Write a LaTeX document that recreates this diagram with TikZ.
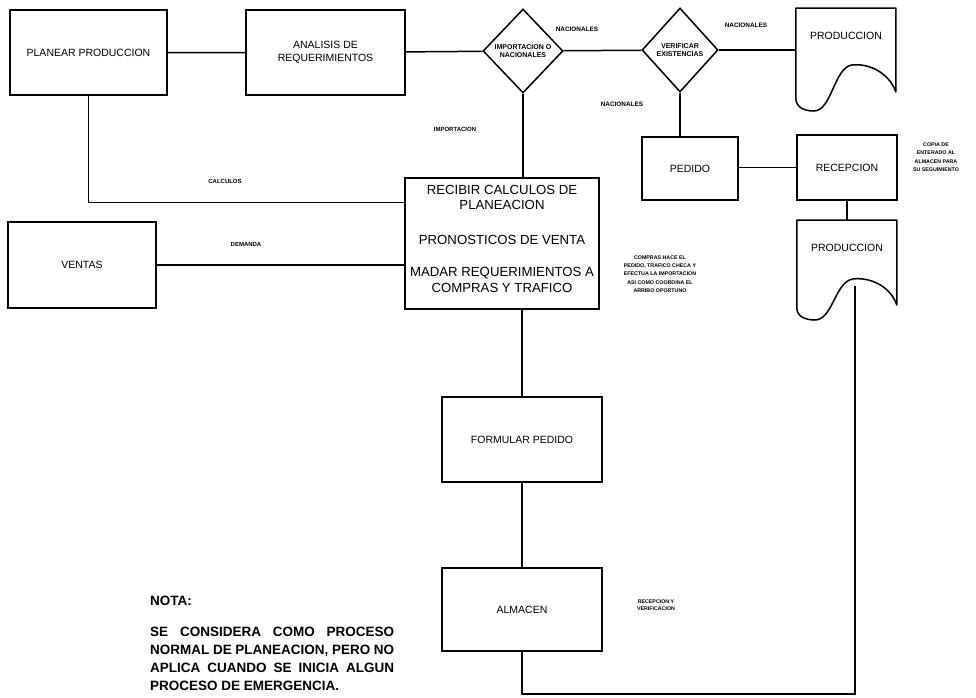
\documentclass[tikz,border=0pt]{standalone}
\usepackage{fontspec}
\setmainfont{Liberation Sans}
\usetikzlibrary{shapes.geometric,calc}

\begin{document}
\begin{tikzpicture}[x=1pt,y=-1pt]
			\tikzstyle{box}=[rectangle,draw,line width=1.5pt,inner sep=0pt,font=\fontsize{10.5}{12.5}\selectfont,align=center]
			\tikzstyle{decision}=[diamond,draw,line width=1.5pt,inner sep=0pt,minimum width=80pt,minimum height=84pt,font=\bfseries\fontsize{7}{8}\selectfont,align=center]
			\tikzstyle{doc}=[inner sep=0pt,anchor=north,minimum width=100pt,text depth=0pt,text height=31pt,font=\fontsize{10.5}{12.5}\selectfont]
			\tikzstyle{tag}=[inner sep=0pt,font=\bfseries\fontsize{6}{7}\selectfont,align=center]
			\tikzstyle{small tag}=[tag,font=\bfseries\fontsize{5.3}{8.4}\selectfont]
			\tikzstyle{edge}=[draw,line width=1.5pt,-,black]
			\tikzstyle{docline}=[draw,line width=1.5pt,line join=round]
			
			\useasboundingbox (0,0) rectangle (976,697);
			
			\node[box,minimum width=157pt,minimum height=85pt] (plan) at (88.5,52.5) {PLANEAR PRODUCCION};
			\node[box,minimum width=159pt,minimum height=85pt] (anal) at (325.5,52.5) {ANALISIS DE\\REQUERIMIENTOS};
			\node[decision] (d1) at (523,51) {IMPORTACION O\\NACIONALES};
			\node[decision,minimum width=76pt] (d2) at (680,50) {VERIFICAR\\EXISTENCIAS};
			\node[doc] (prod1) at (846,8) {PRODUCCION};
			\node[box,minimum width=96pt,minimum height=63pt] (ped) at (690,168.5) {PEDIDO};
			\node[box,minimum width=100pt,minimum height=65pt] (rec) at (847,167.5) {RECEPCION};
			\node[doc] (prod2) at (847,220) {PRODUCCION};
			\node[box,minimum width=194pt,minimum height=131pt,font=\fontsize{13.2}{15.5}\selectfont] (recv) at (502,243.5) {RECIBIR CALCULOS DE\\PLANEACION\\[19pt]PRONOSTICOS DE VENTA\\[17pt]MADAR REQUERIMIENTOS A\\COMPRAS Y TRAFICO\\[-5.5pt]\mbox{}};
			\node[box,minimum width=148pt,minimum height=86pt] (vent) at (82,265) {VENTAS};
			\node[box,minimum width=160pt,minimum height=85pt] (form) at (522,439.5) {FORMULAR PEDIDO};
			\node[box,minimum width=160pt,minimum height=83pt] (alm) at (522,609.5) {ALMACEN};
			
			\begin{scope}[shift={(prod1.north west)}]
				\path[docline] (0,0) -- (100,0) -- (100,84) .. controls (93,64) and (72,55) .. (56,57) .. controls (38,60) and (36,103) .. (18,103) .. controls (8,103) and (0,99) .. (0,90) -- cycle;
			\end{scope}
			\begin{scope}[shift={(prod2.north west)}]
				\path[docline] (0,0) -- (100,0) -- (100,85) .. controls (93,65) and (72,57) .. (56,59) .. controls (38,62) and (36,100) .. (18,100) .. controls (8,100) and (0,96) .. (0,88) -- cycle;
				\coordinate (prod2out) at (58,66);
			\end{scope}
			\coordinate (bot) at (0,694);
			
			\draw[edge] (plan) -- (anal) -- (d1) -- (d2);
			\draw[edge] (d2.east) -- (d2.east -| prod1.west);
			\draw[edge] (d2.south) -- (d2.south |- ped.north);
			\draw[edge] (ped.east |- rec.west) -- (rec.west);
			\draw[edge] (rec.south) -- (prod2.north);
			\draw[edge] (d1.south) -- (d1.south |- recv.north);
			\draw[edge] (plan.south) |- ($(recv.north west)+(0,25)$);
			\draw[edge] (vent.east) -- (vent.east -| recv.west);
			\draw[edge] (recv.south -| form.north) -- (form.north);
			\draw[edge] (form.south) -- (alm.north);
			\draw[edge] (prod2out) -- (prod2out |- bot) -- (alm.south |- bot) -- (alm.south);
			
			\node[tag,font=\bfseries\fontsize{6.4}{7.5}\selectfont] (t1) at (577,29) {NACIONALES};
			\node[tag,font=\bfseries\fontsize{6.4}{7.5}\selectfont] (t2) at (746,25) {NACIONALES};
			\node[tag,font=\bfseries\fontsize{6.4}{7.5}\selectfont] (t3) at (622,104) {NACIONALES};
			\node[tag] (t4) at (455,129) {IMPORTACION};
			\node[tag] (t5) at (225,181) {CALCULOS};
			\node[tag] (t6) at (246,244) {DEMANDA};
			\node[small tag] (t7) at (660,274) {COMPRAS HACE EL\\PEDIDO, TRAFICO CHECA Y\\EFECTUA LA IMPORTACION\\ASI COMO COORDINA EL\\ARRIBO OPORTUNO};
			\node[small tag] (t8) at (936,157) {COPIA DE\\ENTERADO AL\\ALMACEN PARA\\SU SEGUIMIENTO};
			\node[small tag,font=\bfseries\fontsize{5.3}{7.5}\selectfont] (t9) at (656,605) {RECEPCION Y\\VERIFICACION};
			
			\node[anchor=west,inner sep=0pt,font=\bfseries\fontsize{13.5}{17}\selectfont] (nota) at (150,601) {NOTA:};
			\node[anchor=north west,inner sep=0pt,text width=244pt,align=justify,font=\bfseries\fontsize{13.5}{18}\selectfont] (nota text) at (nota.west |- 0,627) {SE CONSIDERA COMO PROCESO\linebreak NORMAL DE PLANEACION, PERO NO\linebreak APLICA CUANDO SE INICIA ALGUN\linebreak PROCESO DE EMERGENCIA.};
		\end{tikzpicture}
\end{document}
